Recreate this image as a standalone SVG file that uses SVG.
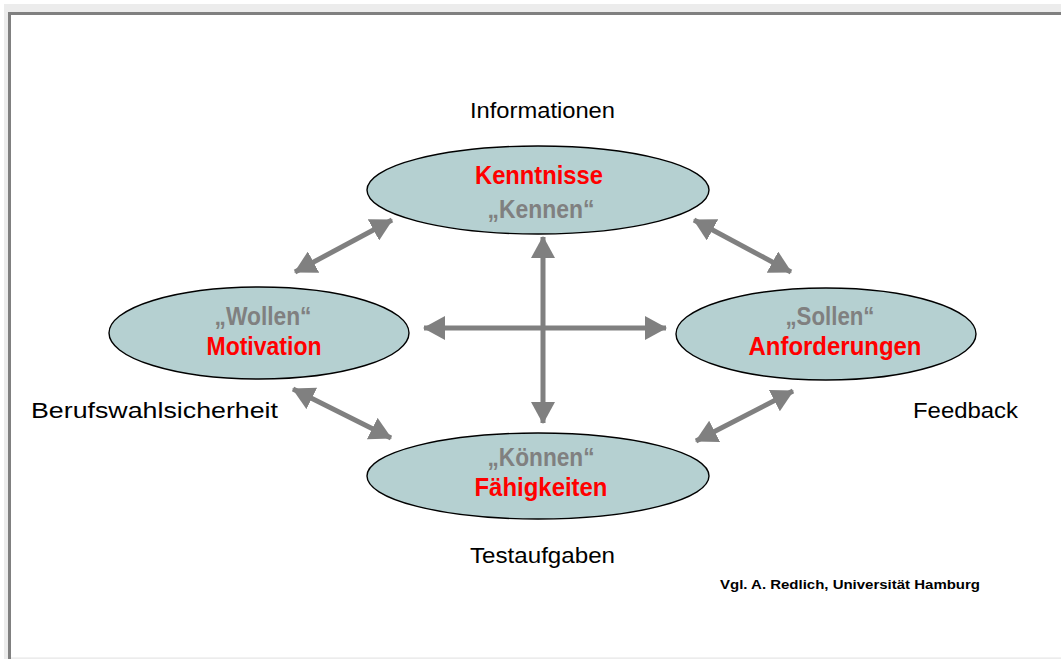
<svg xmlns="http://www.w3.org/2000/svg" width="1061" height="659" viewBox="0 0 1061 659">
<style>
.ell{fill:#b5d0d1;stroke:#000;stroke-width:1.4}
.red{fill:#ff0000;font-family:"Liberation Sans",Arial,sans-serif;font-weight:bold;font-size:25px;text-anchor:middle}
.gry{fill:#808080;font-family:"Liberation Sans",Arial,sans-serif;font-weight:bold;font-size:25px;text-anchor:middle}
.lbl{fill:#000;font-family:"Liberation Sans",Arial,sans-serif;font-size:22px}
.src{fill:#000;font-family:"Liberation Sans",Arial,sans-serif;font-weight:bold;font-size:13px}
.arr{stroke:#808080;stroke-width:5;fill:none;marker-start:url(#ah);marker-end:url(#ah)}
</style>
<defs>
<marker id="ah" viewBox="0 0 22 24" refX="21" refY="12" markerWidth="22" markerHeight="24" markerUnits="userSpaceOnUse" orient="auto-start-reverse">
<path d="M0,0 L22,12 L0,24 z" fill="#808080"/>
</marker>
</defs>
<rect x="4" y="4" width="1057" height="655" fill="#ececec"/>
<rect x="8" y="12" width="1053" height="645" fill="#ffffff"/>
<rect x="8" y="12" width="1053" height="3" fill="#808080"/>
<rect x="8" y="12" width="3" height="647" fill="#808080"/>
<line x1="11" y1="657.5" x2="1061" y2="657.5" stroke="#f2f2f2" stroke-width="1"/>

<g id="connectors">
<line class="arr" x1="295" y1="272" x2="392" y2="220"/>
<line class="arr" x1="791" y1="272" x2="694" y2="220"/>
<line class="arr" x1="293" y1="389" x2="391" y2="438"/>
<line class="arr" x1="793" y1="391" x2="696" y2="441"/>
<line class="arr" x1="543" y1="237" x2="543" y2="423"/>
<line class="arr" x1="424" y1="328" x2="666" y2="328"/>
</g>

<g id="node-kenntnisse">
<ellipse class="ell" cx="538" cy="190" rx="171" ry="44"/>
<text class="red" x="539" y="184" textLength="128" lengthAdjust="spacingAndGlyphs">Kenntnisse</text>
<text class="gry" x="541" y="218" textLength="107" lengthAdjust="spacingAndGlyphs">„Kennen“</text>
</g>

<g id="node-wollen">
<ellipse class="ell" cx="259" cy="333" rx="150" ry="46"/>
<text class="gry" x="263" y="325" textLength="97" lengthAdjust="spacingAndGlyphs">„Wollen“</text>
<text class="red" x="264" y="355" textLength="115" lengthAdjust="spacingAndGlyphs">Motivation</text>
</g>

<g id="node-sollen">
<ellipse class="ell" cx="826" cy="334" rx="150" ry="46"/>
<text class="gry" x="830" y="325" textLength="89" lengthAdjust="spacingAndGlyphs">„Sollen“</text>
<text class="red" x="835" y="355" textLength="173" lengthAdjust="spacingAndGlyphs">Anforderungen</text>
</g>

<g id="node-koennen">
<ellipse class="ell" cx="538" cy="476" rx="171" ry="43"/>
<text class="gry" x="541" y="466" textLength="107" lengthAdjust="spacingAndGlyphs">„Können“</text>
<text class="red" x="541" y="496" textLength="133" lengthAdjust="spacingAndGlyphs">Fähigkeiten</text>
</g>

<g id="labels">
<text class="lbl" x="470" y="118" textLength="145" lengthAdjust="spacingAndGlyphs">Informationen</text>
<text class="lbl" x="31" y="418" textLength="247" lengthAdjust="spacingAndGlyphs">Berufswahlsicherheit</text>
<text class="lbl" x="913" y="418" textLength="105" lengthAdjust="spacingAndGlyphs">Feedback</text>
<text class="lbl" x="470" y="563" textLength="145" lengthAdjust="spacingAndGlyphs">Testaufgaben</text>
<text class="src" x="720" y="589" textLength="260" lengthAdjust="spacingAndGlyphs">Vgl. A. Redlich, Universität Hamburg</text>
</g>
</svg>
